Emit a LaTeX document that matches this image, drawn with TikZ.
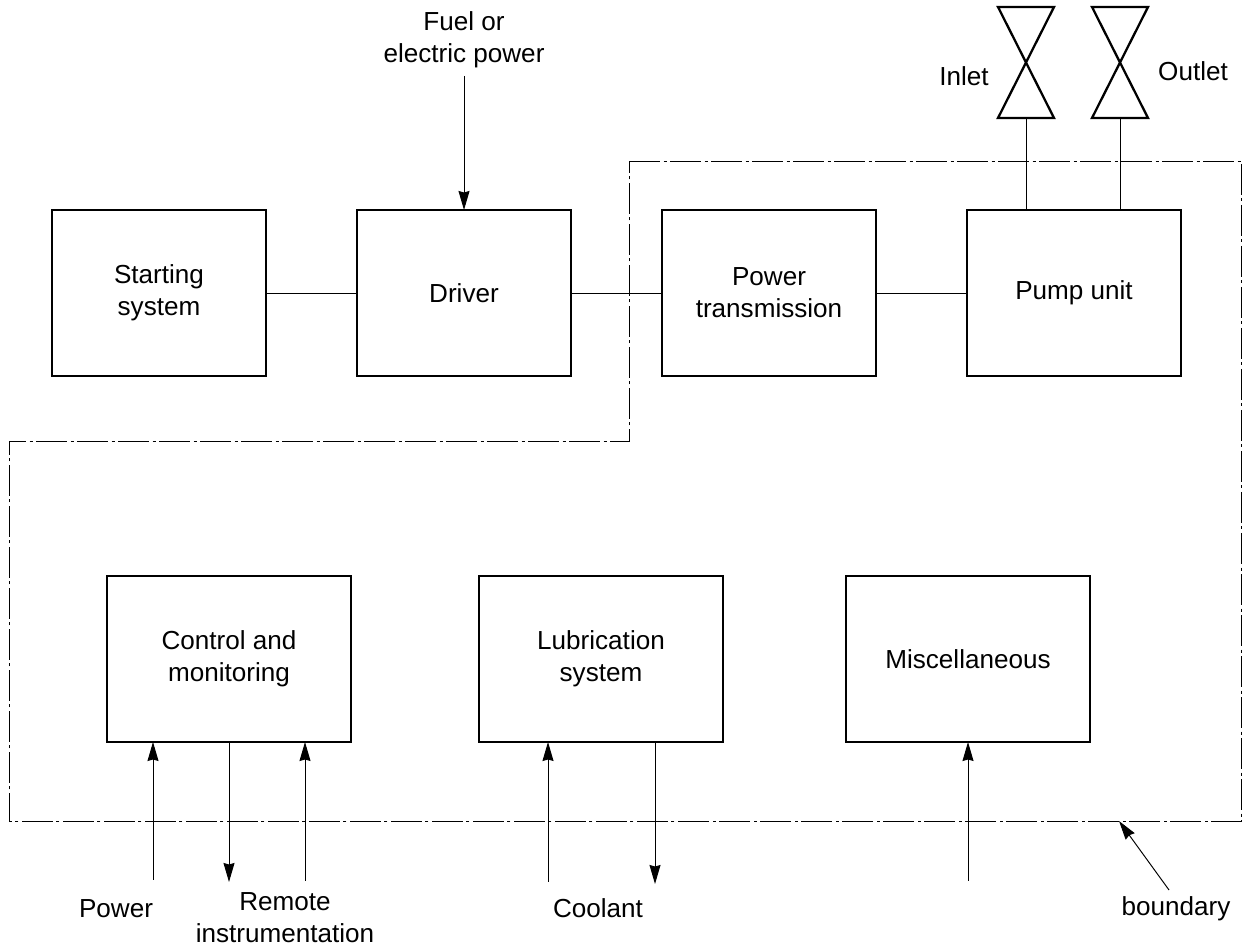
\documentclass[tikz,border=0pt]{standalone}
\usepackage{fontspec}
\setmainfont{Liberation Sans}
\usetikzlibrary{arrows.meta}

\tikzset{
	blockbox/.style = {rectangle, draw=black, line width = 1.2pt, align = center, outer sep = 0pt},
	upperbox/.style = {blockbox, minimum width = 4.28cm, minimum height = 3.32cm},
	lowerbox/.style = {blockbox, minimum width = 4.88cm, minimum height = 3.32cm},
	caption/.style = {align = center, inner sep = 0pt},
	link/.style = {line width = 0.55pt},
	flow/.style = {link, -{Stealth[length = 0.38cm, width = 0.22cm, inset = 0.03cm]}},
	valveline/.style = {line width = 1.3pt, line join = miter},
	boundaryline/.style = {line width = 0.55pt, dash pattern = on 0.62cm off 0.07cm on 0.06cm off 0.07cm}
}

\begin{document}
\begin{tikzpicture}[font = \fontsize{14.85}{18.1}\selectfont]
	\useasboundingbox (0,0) rectangle (24.86,18.94);

	\node[upperbox] (starting) at(3.18,13.08){Starting\\system};
	\node[upperbox] (driver) at(9.28,13.08){Driver};
	\node[upperbox] (transmission) at(15.38,13.08){Power\\transmission};
	\node[upperbox] (pump) at(21.48,13.08){Pump unit};
	\node[lowerbox] (control) at(4.58,5.76){Control and\\monitoring};
	\node[lowerbox] (lubrication) at(12.02,5.76){Lubrication\\system};
	\node[lowerbox] (misc) at(19.36,5.76){Miscellaneous};

	\node[caption] (fuel) at(9.28,18.14){Fuel or\\electric power};
	\node[caption] (inlet) at(19.28,17.42){Inlet};
	\node[caption] (outlet) at(23.86,17.52){Outlet};
	\node[caption] (power) at(2.32,0.76){Power};
	\node[caption] (remote) at(5.70,0.58){Remote\\instrumentation};
	\node[caption] (coolant) at(11.96,0.78){Coolant};
	\node[caption] (boundary) at(23.52,0.76){boundary};

	% boundary corners
	\coordinate (b1) at(12.58,15.72);
	\coordinate (b2) at(24.82,15.72);
	\coordinate (b3) at(24.82,2.52);
	\coordinate (b4) at(0.18,2.52);
	\coordinate (b5) at(0.18,10.12);
	\coordinate (b6) at(12.58,10.12);
	\coordinate (boundarytip) at(22.38,2.52);
	\coordinate (boundarytail) at(23.38,1.14);
	\draw[boundaryline] (b1) -- (b2) -- (b3) -- (b4) -- (b5) -- (b6) -- cycle;

	% valves
	\coordinate (inletvalve) at(20.52,16.58);
	\coordinate (outletvalve) at(22.40,16.58);
	\draw[valveline] (19.96,18.80) -- (21.08,18.80) -- (19.96,16.58) -- (21.08,16.58) -- cycle;
	\draw[valveline] (21.84,18.80) -- (22.96,18.80) -- (21.84,16.58) -- (22.96,16.58) -- cycle;
	\draw[link] (inletvalve) -- (inletvalve |- pump.north);
	\draw[link] (outletvalve) -- (outletvalve |- pump.north);

	\draw[link] (starting) -- (driver);
	\draw[link] (driver) -- (transmission);
	\draw[link] (transmission) -- (pump);

	% free ends of the arrows
	\coordinate (fuelend) at(9.28,17.42);
	\coordinate (powerend) at(3.06,1.34);
	\coordinate (remoteend) at(4.58,1.30);
	\coordinate (instrumentend) at(6.10,1.32);
	\coordinate (coolantin) at(10.96,1.30);
	\coordinate (coolantout) at(13.10,1.26);
	\coordinate (miscend) at(19.36,1.32);
	\draw[flow] (fuelend) -- (driver);
	\draw[flow] (powerend) -- (powerend |- control.south);
	\draw[flow] (remoteend |- control.south) -- (remoteend);
	\draw[flow] (instrumentend) -- (instrumentend |- control.south);
	\draw[flow] (coolantin) -- (coolantin |- lubrication.south);
	\draw[flow] (coolantout |- lubrication.south) -- (coolantout);
	\draw[flow] (miscend) -- (misc);
	\draw[flow] (boundarytail) -- (boundarytip);
\end{tikzpicture}
\end{document}
